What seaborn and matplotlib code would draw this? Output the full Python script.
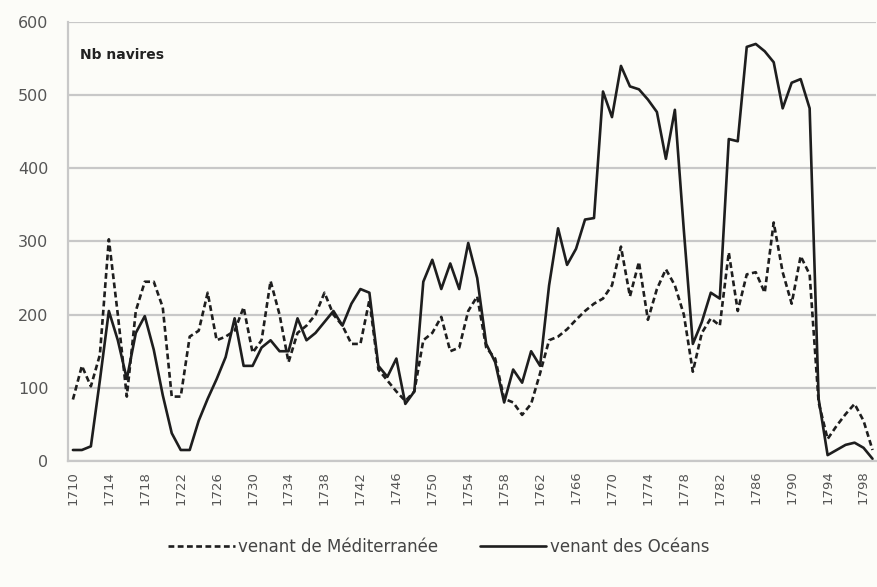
import numpy as np
import pandas as pd
import matplotlib
matplotlib.use("Agg")
import matplotlib.pyplot as plt
import seaborn as sns

# years 1710 -> 1799
annees = list(range(1710, 1800))

mediterranee = [84, 130, 102, 145, 303, 200, 88, 205, 245, 245,
                210, 88, 88, 170, 178, 230, 165, 170, 178, 210,
                148, 165, 246, 200, 135, 175, 185, 200, 230, 200,
                185, 160, 160, 220, 125, 110, 95, 82, 95, 165,
                175, 197, 150, 155, 205, 225, 155, 140, 85, 80,
                63, 78, 120, 165, 170, 180, 193, 205, 215, 222,
                240, 293, 225, 272, 193, 235, 262, 240, 200, 122,
                175, 195, 185, 285, 205, 255, 258, 230, 326, 258,
                215, 280, 255, 80, 30, 48, 64, 78, 55, 15]

oceans = [15, 15, 20, 110, 205, 165, 112, 175, 198, 152,
          90, 38, 15, 15, 55, 85, 112, 142, 195, 130,
          130, 155, 165, 150, 150, 195, 165, 175, 190, 205,
          185, 215, 235, 230, 130, 115, 140, 78, 95, 245,
          275, 235, 270, 235, 298, 250, 160, 135, 80, 125,
          107, 150, 130, 240, 318, 268, 290, 330, 332, 505,
          470, 540, 512, 508, 494, 477, 413, 480, 315, 160,
          190, 230, 222, 440, 437, 566, 570, 560, 545, 482,
          517, 522, 482, 85, 8, 15, 22, 25, 18, 3]

tick_years = list(range(1710, 1800, 4))

df = pd.DataFrame({"annee": annees, "med": mediterranee, "oce": oceans})

sns.set_style("white")
plt.rcParams["font.family"] = ["DejaVu Sans"]

fig = plt.figure(figsize=(8.77, 5.87), dpi=100, facecolor="#fcfcf8")
ax = fig.add_axes([0.0775, 0.2147, 0.9215, 0.7478])
ax.set_facecolor("#fcfcf8")

sns.lineplot(data=df, x="annee", y="med", ax=ax, color="#1e1e1e",
             linewidth=1.9, linestyle=(0, (2.2, 1.3)), label="venant de Méditerranée")
sns.lineplot(data=df, x="annee", y="oce", ax=ax, color="#1e1e1e",
             linewidth=1.9, label="venant des Océans")

ax.set_xlim(1709.45, 1799.4)
ax.set_ylim(0, 600)
ax.set_yticks(range(0, 601, 100))
ax.set_xticks(tick_years)
ax.set_xticklabels([str(y) for y in tick_years], rotation=90, fontsize=9.5, color="#555555")
ax.set_xticks(annees, minor=True)
ax.tick_params(axis="x", which="both", direction="out", length=4, color="#bbbbbb", pad=3)
ax.tick_params(axis="y", length=0, labelsize=11.5, colors="#555555", pad=14)

ax.grid(axis="y", color="#c8c8c8", linewidth=1.6)
ax.set_axisbelow(True)
for s in ["top", "right"]:
    ax.spines[s].set_visible(False)
ax.spines["left"].set_color("#c8c8c8")
ax.spines["left"].set_linewidth(1.6)
ax.spines["bottom"].set_color("#c8c8c8")
ax.spines["bottom"].set_linewidth(1.6)

ax.set_xlabel("")
ax.set_ylabel("")

ax.text(0.015, 0.915, "Nb navires", transform=ax.transAxes, fontsize=10,
        fontweight="bold", color="#222222")

ax.legend_.remove()
handles, labels = ax.get_legend_handles_labels()
fig.legend(handles, labels, loc="center", bbox_to_anchor=(0.50, 0.068), ncol=2,
           frameon=False, fontsize=12, handlelength=4.0, handletextpad=0.2,
           columnspacing=2.5, labelcolor="#444444")

fig.savefig("out.png", dpi=100, facecolor=fig.get_facecolor())
